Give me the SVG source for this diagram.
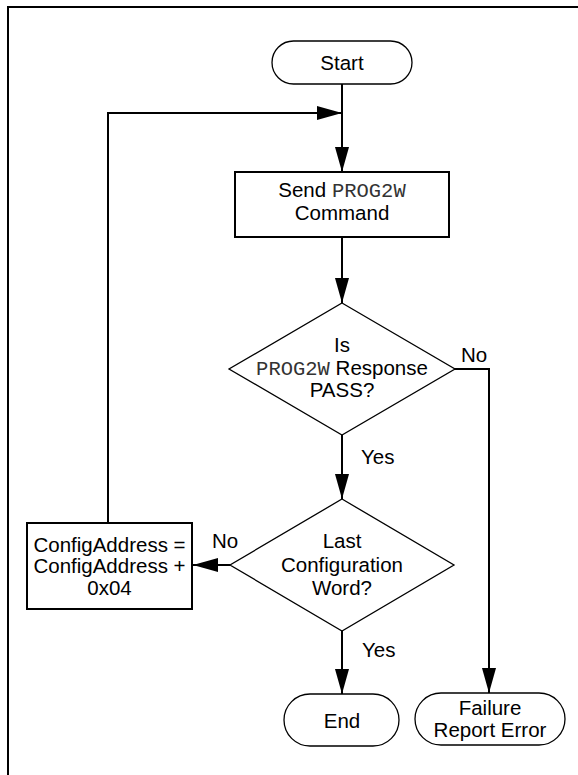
<svg xmlns="http://www.w3.org/2000/svg" width="578" height="775" viewBox="0 0 578 775">
  <style>
    .shape { fill: #ffffff; stroke: #000000; stroke-width: 1.3; }
    .box { fill: #ffffff; stroke: #000000; stroke-width: 2; }
    .conn { fill: none; stroke: #000000; stroke-width: 2; }
    text { font-family: "Liberation Sans", Arial, sans-serif; font-size: 20.5px; fill: #000000; }
    .mid { text-anchor: middle; }
    .mono { font-family: "Liberation Mono", "Courier New", monospace; fill: #333333; }
  </style>
  <defs>
    <marker id="arrow" markerUnits="userSpaceOnUse" markerWidth="25" markerHeight="14" refX="25" refY="7" orient="auto">
      <path d="M0,0 L25,7 L0,14 z" fill="#000000"/>
    </marker>
  </defs>
  <rect x="0" y="0" width="578" height="775" fill="#ffffff"/>
  <rect x="8" y="7" width="620" height="820" fill="none" stroke="#000000" stroke-width="2"/>

  <g id="connectors">
    <line class="conn" x1="342" y1="84" x2="342" y2="172" marker-end="url(#arrow)"/>
    <polyline class="conn" points="108,523 108,113 342,113" marker-end="url(#arrow)"/>
    <line class="conn" x1="342" y1="237" x2="342" y2="303" marker-end="url(#arrow)"/>
    <line class="conn" x1="342" y1="435" x2="342" y2="499" marker-end="url(#arrow)"/>
    <polyline class="conn" points="453,369 489,369 489,693" marker-end="url(#arrow)"/>
    <line class="conn" x1="230" y1="565" x2="193" y2="565" marker-end="url(#arrow)"/>
    <line class="conn" x1="342" y1="631" x2="342" y2="694" marker-end="url(#arrow)"/>
    <text x="474" y="362" class="mid">No</text>
    <text x="361" y="464">Yes</text>
    <text x="212" y="548">No</text>
    <text x="362" y="657">Yes</text>
  </g>

  <g id="start">
    <rect class="shape" x="272" y="41" width="140" height="43" rx="21.5" ry="21.5"/>
    <text x="342" y="70" class="mid">Start</text>
  </g>

  <g id="send">
    <rect class="box" x="235" y="172" width="214" height="65"/>
    <text x="342" y="197" class="mid">Send <tspan class="mono">PROG2W</tspan></text>
    <text x="342" y="220" class="mid">Command</text>
  </g>

  <g id="check-pass">
    <polygon class="shape" points="342,303 455,369 342,435 229,369"/>
    <text x="342" y="352" class="mid">Is</text>
    <text x="342" y="375" class="mid"><tspan class="mono">PROG2W</tspan> Response</text>
    <text x="342" y="397" class="mid">PASS?</text>
  </g>

  <g id="check-last">
    <polygon class="shape" points="342,499 454,565 342,631 230,565"/>
    <text x="342" y="548" class="mid">Last</text>
    <text x="342" y="572" class="mid">Configuration</text>
    <text x="342" y="595" class="mid">Word?</text>
  </g>

  <g id="increment">
    <rect class="box" x="27" y="523" width="165" height="86"/>
    <text x="109.5" y="552" class="mid">ConfigAddress =</text>
    <text x="109.5" y="573" class="mid">ConfigAddress +</text>
    <text x="109.5" y="595" class="mid">0x04</text>
  </g>

  <g id="end">
    <rect class="shape" x="284" y="694" width="115" height="52" rx="26" ry="26"/>
    <text x="342" y="728" class="mid">End</text>
  </g>

  <g id="failure">
    <rect class="shape" x="415" y="693" width="150" height="52" rx="26" ry="26"/>
    <text x="490" y="715" class="mid">Failure</text>
    <text x="490" y="737" class="mid">Report Error</text>
  </g>
</svg>
